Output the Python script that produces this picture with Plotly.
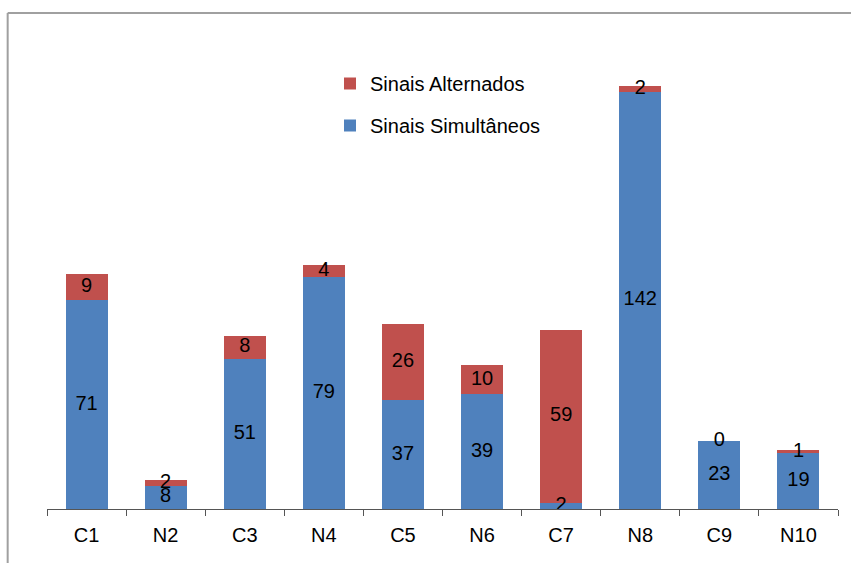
import plotly.graph_objects as go

# Categories and stacked counts
categories = ["C1", "N2", "C3", "N4", "C5", "N6", "C7", "N8", "C9", "N10"]
simultaneos = [71, 8, 51, 79, 37, 39, 2, 142, 23, 19]
alternados = [9, 2, 8, 4, 26, 10, 59, 2, 0, 1]

BLUE = "#4F81BD"
RED = "#C0504D"
FONT = "Liberation Sans, Arial, sans-serif"
FS = 20
W, H = 851, 563
L, R, T, B = 47.3, 13.3, 39, 54
YMAX = 160

fig = go.Figure()
fig.add_trace(go.Bar(
    x=categories, y=simultaneos, name="Sinais Simultâneos",
    marker=dict(color=BLUE, line=dict(width=0)),
    legendgroup="a", legendrank=2,
))
fig.add_trace(go.Bar(
    x=categories, y=alternados, name="Sinais Alternados",
    marker=dict(color=RED, line=dict(width=0)),
    legendgroup="b", legendrank=1,
))

# Value labels centred on each stacked segment
fig.add_trace(go.Scatter(
    x=categories, y=[v / 2 for v in simultaneos],
    text=[str(v) for v in simultaneos], mode="text",
    textfont=dict(family=FONT, size=FS, color="black"),
    showlegend=False, hoverinfo="skip",
))
fig.add_trace(go.Scatter(
    x=categories, y=[s + a / 2 for s, a in zip(simultaneos, alternados)],
    text=[str(v) for v in alternados], mode="text",
    textfont=dict(family=FONT, size=FS, color="black"),
    showlegend=False, hoverinfo="skip",
))

plot_w = W - L - R
plot_h = H - T - B


def px_x(x):
    return (x - L) / plot_w


def px_y(y):
    return (H - B - y) / plot_h


# Chart frame lines (top and left edges)
fig.add_shape(type="line", xref="paper", yref="paper",
              x0=px_x(8), x1=px_x(860), y0=px_y(13), y1=px_y(13),
              line=dict(color="#A0A0A0", width=2))
fig.add_shape(type="line", xref="paper", yref="paper",
              x0=px_x(8), x1=px_x(8), y0=px_y(13), y1=px_y(570),
              line=dict(color="#A0A0A0", width=2))

fig.update_layout(
    width=W, height=H,
    margin=dict(l=L, r=R, t=T, b=B, pad=0, autoexpand=False),
    barmode="stack", bargap=0.47,
    paper_bgcolor="white", plot_bgcolor="white",
    font=dict(family=FONT, size=FS, color="black"),
    legend=dict(
        xref="container", yref="container",
        x=330 / W, y=1 - 64 / H, xanchor="left", yanchor="top",
        traceorder="grouped", tracegroupgap=13,
        font=dict(family=FONT, size=FS, color="black"),
        bgcolor="rgba(0,0,0,0)",
    ),
    xaxis=dict(
        type="category", tickson="boundaries", ticks="outside",
        ticklen=6, tickwidth=1, tickcolor="#555555", tickangle=0,
        ticklabelstandoff=8,
        showline=True, linecolor="#555555", linewidth=1,
        showgrid=False, zeroline=False, automargin=False,
        tickfont=dict(family=FONT, size=FS, color="black"),
    ),
    xaxis2=dict(
        overlaying="x", anchor="y", type="linear", range=[-0.5, 9.5],
        tick0=-0.5, dtick=1, ticks="inside", ticklen=6, tickwidth=1,
        tickcolor="#555555", showticklabels=False, showgrid=False,
        zeroline=False, showline=False, automargin=False,
    ),
    yaxis=dict(range=[0, YMAX], visible=False, showgrid=False,
               zeroline=False, automargin=False),
    showlegend=True,
)

fig.write_html("out.html")
